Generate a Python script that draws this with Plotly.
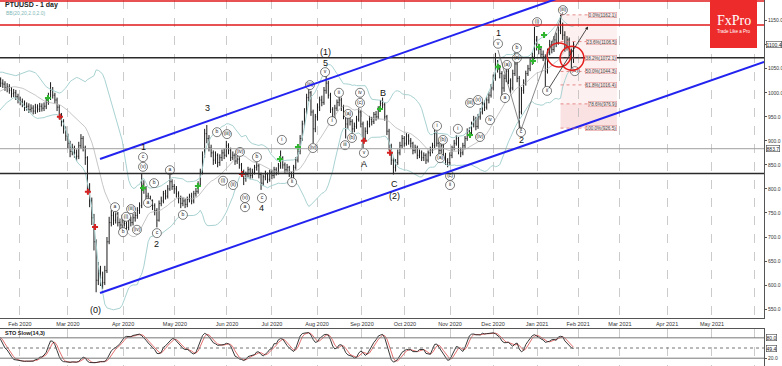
import numpy as np
import pandas as pd
import plotly.graph_objects as go

# ---------------- data ----------------
# bar numbers: first visible bar = 12 ; bars -8..11 are history used for indicators
closes = [965, 975, 972, 980, 985, 978, 990, 995, 1000, 1005, 998, 1010, 1015, 1008, 1020, 1025, 1018, 1030, 1035, 1028,
          1020, 1018, 1010, 1012, 1005, 998, 1000, 992, 985, 982,
          978, 970, 972, 965, 968, 962, 970, 966, 972, 968,
          972, 980, 990, 1005, 995, 985, 970, 952, 940, 925,
          910, 895, 878, 885, 875, 868, 890, 905, 885, 865,
          800, 775, 740, 690, 610, 630, 615, 605, 630, 690, 730,
          745, 735, 748, 730, 725, 740, 728, 720, 735, 730,
          740, 745, 755, 765, 810, 800, 785, 780, 772, 765,
          755, 735, 770, 775, 790, 785, 800, 815, 805, 800,
          790, 780, 770, 775, 768, 778, 785, 775, 790, 795,
          810, 835, 870, 915, 905, 885, 875, 860, 870, 855,
          865, 875, 870, 890, 880, 865, 870, 858, 862, 850,
          835, 822, 830, 840, 828, 835, 845, 848, 830, 812,
          825, 830, 820, 835, 828, 840, 835, 848, 865, 850,
          840, 845, 832, 828, 845, 860, 878, 905, 935, 960,
          990, 1000, 960, 925, 950, 970, 985, 980, 1005, 1020,
          995, 965, 950, 968, 980, 985, 970, 955, 935, 950,
          940, 925, 930, 945, 960, 935, 905, 920, 935, 945,
          940, 955, 950, 965, 978, 975, 950, 920, 890, 860,
          845, 855, 875, 890, 905, 895, 910, 900, 895, 880,
          885, 870, 875, 865, 870, 860, 875, 880, 890, 915,
          895, 880, 890, 870, 858, 855, 870, 885, 895, 905,
          880, 875, 890, 905, 920, 915, 935, 945, 930, 950,
          960, 975, 970, 985, 995, 1010, 1030, 1060, 1050, 1040,
          1010, 1030, 1045, 1025, 1010, 1040, 1060, 1030, 960, 1005,
          1020, 1040, 1050, 1065, 1075, 1110, 1095, 1090, 1080, 1075,
          1045, 1085, 1100, 1090, 1110, 1105, 1130, 1140, 1120, 1095,
          1110, 1085, 1070, 1100.4]
highs = [974, 984, 981, 989, 994, 987, 999, 1004, 1009, 1014, 1007, 1019, 1024, 1017, 1029, 1034, 1027, 1039, 1044, 1037,
         1032, 1028, 1024, 1020, 1018, 1012, 1008, 1006, 998, 992,
         988, 984, 980, 978, 976, 974, 977, 976, 979, 978,
         980, 988, 1000, 1022, 1012, 1000, 990, 975, 958, 945,
         930, 915, 900, 894, 890, 882, 898, 914, 910, 890,
         868, 812, 782, 748, 695, 648, 640, 628, 640, 700, 742,
         756, 752, 755, 752, 738, 746, 744, 732, 740, 742,
         748, 752, 762, 772, 832, 818, 806, 792, 786, 778,
         770, 760, 776, 784, 796, 798, 808, 832, 820, 810,
         806, 795, 786, 782, 780, 784, 790, 792, 796, 802,
         816, 842, 878, 925, 933, 912, 892, 880, 878, 874,
         872, 882, 884, 900, 895, 886, 878, 874, 870, 866,
         854, 840, 836, 846, 844, 842, 850, 856, 852, 834,
         830, 838, 834, 840, 840, 846, 845, 854, 880, 868,
         855, 852, 848, 836, 850, 866, 886, 912, 942, 968,
         998, 1010, 1004, 965, 956, 978, 992, 994, 1012, 1035,
         1025, 1000, 970, 975, 986, 992, 990, 975, 960, 956,
         955, 945, 938, 952, 968, 964, 940, 928, 942, 952,
         950, 960, 962, 972, 985, 990, 980, 954, 925, 894,
         866, 862, 882, 898, 912, 910, 916, 914, 906, 898,
         892, 890, 882, 880, 876, 874, 880, 888, 896, 937,
         920, 900, 896, 894, 875, 864, 876, 890, 902, 912,
         908, 886, 896, 910, 926, 928, 940, 952, 950, 956,
         968, 982, 984, 992, 1002, 1018, 1038, 1083, 1068, 1058,
         1045, 1038, 1052, 1050, 1030, 1048, 1085, 1066, 1035, 1012,
         1028, 1046, 1058, 1072, 1084, 1137, 1118, 1102, 1096, 1088,
         1080, 1092, 1110, 1108, 1118, 1125, 1138, 1162, 1146, 1128,
         1118, 1115, 1092, 1106]
lows = [956, 966, 963, 971, 976, 969, 981, 986, 991, 996, 989, 1001, 1006, 999, 1011, 1016, 1009, 1021, 1026, 1019,
        1012, 1010, 1004, 1001, 998, 990, 991, 985, 978, 974,
        970, 962, 963, 958, 959, 955, 956, 959, 960, 961,
        962, 966, 975, 985, 988, 978, 962, 945, 930, 915,
        900, 885, 866, 870, 865, 858, 862, 884, 878, 850,
        790, 762, 725, 672, 585, 600, 598, 592, 600, 625, 685,
        722, 725, 728, 722, 712, 718, 718, 708, 714, 722,
        724, 732, 738, 748, 760, 790, 776, 770, 764, 756,
        745, 720, 732, 764, 770, 778, 780, 796, 798, 790,
        782, 770, 760, 764, 760, 762, 772, 768, 770, 784,
        790, 805, 830, 865, 895, 878, 866, 850, 852, 845,
        848, 858, 862, 866, 872, 858, 860, 850, 852, 842,
        828, 808, 815, 824, 820, 822, 830, 838, 822, 798,
        806, 818, 812, 815, 820, 822, 828, 830, 842, 842,
        832, 834, 825, 815, 822, 840, 855, 872, 900, 928,
        955, 982, 952, 895, 918, 942, 962, 972, 975, 998,
        988, 958, 940, 944, 962, 972, 962, 945, 905, 925,
        932, 915, 918, 925, 940, 928, 885, 898, 914, 928,
        932, 935, 942, 945, 960, 968, 942, 912, 880, 850,
        830, 836, 850, 870, 885, 888, 890, 892, 886, 872,
        874, 862, 864, 858, 858, 852, 855, 868, 874, 885,
        888, 872, 874, 862, 850, 845, 850, 864, 880, 890,
        872, 866, 870, 884, 900, 908, 910, 928, 922, 925,
        944, 955, 962, 965, 978, 990, 1005, 1025, 1042, 1030,
        990, 1002, 1022, 1018, 1000, 1005, 1035, 1022, 926, 955,
        998, 1015, 1035, 1045, 1058, 1070, 1088, 1080, 1072, 1066,
        1012, 1040, 1078, 1082, 1085, 1095, 1100, 1122, 1110, 1085,
        1088, 1076, 1050, 1062]
first_bar = -8
bars = list(range(first_bar, first_bar + len(closes)))
opens = [closes[0] - 5] + closes[:-1]

month_ticks = [20.9, 43.0, 68.4, 92.3, 116.3, 137.0, 157.8, 178.5, 198.3, 219.1,
               238.9, 259.2, 278.1, 297.4, 319.1, 339.8, 359.6]
month_labels = ["Feb 2020", "Mar 2020", "Apr 2020", "May 2020", "Jun 2020", "Jul 2020",
                "Aug 2020", "Sep 2020", "Oct 2020", "Nov 2020", "Dec 2020", "Jan 2021",
                "Feb 2021", "Mar 2021", "Apr 2021", "May 2021", ""]

price_ticks = [550, 600, 650, 700, 750, 800, 850, 900, 950, 1000, 1050, 1100, 1150]

# horizontal levels
red_levels = [1191, 1141]
black_levels = [1073, 832]
gray_level = 883.7
last_price = 1100.4

# channel (bar, price) pairs
upper_channel = [(57.8, 862.3), (288.2, 1227.0)]
lower_channel = [(57.8, 583.5), (363.8, 1064.0)]

# fibonacci retracement
fib_start, fib_end = 270, 296
fib_ratios = ["0.0%", "23.6%", "38.2%", "50.0%", "61.8%", "78.6%", "100.0%"]
fib_values = [1162.1, 1106.5, 1072.1, 1044.3, 1016.4, 976.9, 926.5]

# Elliott labels (text, bar, price)
major_labels = [("(0)", 55.9, 548), ("1", 77.6, 887), ("2", 83.6, 685), ("3", 107.1, 968),
                ("4", 132.4, 760), ("(1)", 161.5, 1085), ("5", 161.5, 1061), ("A", 179.4, 852),
                ("B", 188.2, 1000), ("C", 193.3, 811), ("(2)", 193.3, 786), ("1", 241.2, 1124),
                ("2", 251.8, 902)]
circ_text = ["a", "(i)", "(iii)", "b", "(iv)", "c", "(v)", "b", "a", "c", "a", "b", "b", "(iii)", "(i)",
             "(ii)", "(iv)", "(v)", "a", "b", "c", "i", "ii", "(iv)", "(iii)", "v", "i", "ii", "(a)",
             "iii", "(b)", "(c)", "iv", "v", "i", "(a)", "(b)", "(c)", "ii", "i", "(iii)", "(v)",
             "(iv)", "iv", "v", "(a)", "a", "b", "(c)", "c", "(i)", "ii", "(iii)", "(iv)"]
circ_bar = [64.7, 69.8, 72.1, 68.4, 74.8, 77.6, 77.6, 82.7, 79.9, 84.0, 90.0, 96.0, 111.7, 116.3, 114.5,
            119.1, 122.3, 124.6, 124.6, 130.1, 132.4, 141.6, 146.3, 155.9, 154.5, 161.5, 164.7, 167.9, 172.1,
            170.7, 173.9, 177.6, 177.6, 179.4, 213.1, 214.5, 215.8, 219.1, 219.1, 222.7, 228.3, 232.0,
            232.9, 237.5, 241.2, 245.3, 244.4, 249.9, 249.9, 251.8, 259.2, 263.8, 271.1, 276.6]
circ_price = [762, 742, 758, 710, 715, 866, 846, 812, 771, 708, 839, 746, 918, 914, 817,
              808, 877, 781, 762, 866, 781, 902, 814, 885, 1016, 1043, 941, 1000, 956,
              891, 906, 979, 1000, 875, 931, 864, 902, 827, 808, 925, 979, 985,
              908, 943, 1102, 1058, 989, 1093, 1072, 918, 1147, 1004, 1172, 1045]

green_bar = [33.8, 77.6, 102.9, 140.7, 149.0, 186.8, 228.3, 241.2, 257.3, 260.1, 262.4]
green_price = [989, 802, 806, 862, 887, 966, 912, 1054, 1066, 1095, 1120]
red_bar = [39.3, 52.2, 55.5, 123.2, 179.4, 191.4]
red_price = [950, 794, 721, 831, 900, 875]

wave_lines = [((241.2, 1089), (251.8, 923)), ((251.8, 923), (271.1, 1168))]

# ---------------- indicators ----------------
s_close = pd.Series(closes, dtype=float)
s_high = pd.Series(highs, dtype=float)
s_low = pd.Series(lows, dtype=float)
mid = s_close.rolling(20).mean()
sd = s_close.rolling(20).std(ddof=0)
bb_up, bb_lo = mid + 2 * sd, mid - 2 * sd

ll = s_low.rolling(14, min_periods=1).min()
hh = s_high.rolling(14, min_periods=1).max()
num = (s_close - ll).rolling(3, min_periods=1).sum()
den = (hh - ll).rolling(3, min_periods=1).sum()
stoch_k = 100 * num / den
stoch_d = stoch_k.rolling(3, min_periods=1).mean()

# ---------------- figure ----------------
W, H = 782, 366
PLOT_W = 764
XR = [11.7, 11.7 + PLOT_W / 2.17]
FONT = "Liberation Sans, Arial, sans-serif"

fig = go.Figure()

fig.add_trace(go.Scatter(x=bars, y=bb_up, mode="lines", line=dict(color="#a9d2d2", width=1),
                         hoverinfo="skip", showlegend=False))
fig.add_trace(go.Scatter(x=bars, y=bb_lo, mode="lines", line=dict(color="#a9d2d2", width=1),
                         hoverinfo="skip", showlegend=False))
fig.add_trace(go.Scatter(x=bars, y=mid, mode="lines", line=dict(color="#b8b8b8", width=0.8),
                         hoverinfo="skip", showlegend=False))

fig.add_trace(go.Ohlc(x=bars, open=opens, high=highs, low=lows, close=closes,
                      increasing=dict(line=dict(color="#1a1a1a", width=1)),
                      decreasing=dict(line=dict(color="#1a1a1a", width=1)),
                      tickwidth=0.3, showlegend=False, hoverinfo="skip"))

fig.add_trace(go.Scatter(x=green_bar, y=green_price, mode="markers",
                         marker=dict(symbol="cross", size=5, color="#2fb52f"),
                         showlegend=False, hoverinfo="skip"))
fig.add_trace(go.Scatter(x=red_bar, y=red_price, mode="markers",
                         marker=dict(symbol="cross", size=5, color="#d42020"),
                         showlegend=False, hoverinfo="skip"))

fig.add_trace(go.Scatter(x=circ_bar, y=circ_price, mode="markers+text", text=circ_text,
                         textposition="middle center",
                         textfont=dict(size=5, color="#222", family=FONT),
                         marker=dict(symbol="circle", size=9, color="rgba(255,255,255,0.9)",
                                     line=dict(color="#444", width=0.7)),
                         showlegend=False, hoverinfo="skip"))

# stochastic
fig.add_trace(go.Scatter(x=bars, y=stoch_d, mode="lines", line=dict(color="#e06060", width=0.9),
                         xaxis="x2", yaxis="y2", showlegend=False, hoverinfo="skip"))
fig.add_trace(go.Scatter(x=bars, y=stoch_k, mode="lines", line=dict(color="#222", width=0.9),
                         xaxis="x2", yaxis="y2", showlegend=False, hoverinfo="skip"))

shapes = []
for lv in red_levels:
    shapes.append(dict(type="line", xref="paper", yref="y", x0=0, x1=1, y0=lv, y1=lv,
                       line=dict(color="#e01818", width=1.6)))
for lv in black_levels:
    shapes.append(dict(type="line", xref="paper", yref="y", x0=0, x1=1, y0=lv, y1=lv,
                       line=dict(color="#2a2a2a", width=1.6)))
shapes.append(dict(type="line", xref="paper", yref="y", x0=0, x1=1, y0=gray_level, y1=gray_level,
                   line=dict(color="#a0a0a0", width=1)))
for (a, b) in (upper_channel, lower_channel):
    shapes.append(dict(type="line", xref="x", yref="y", x0=a[0], y0=a[1], x1=b[0], y1=b[1],
                       line=dict(color="#2323f0", width=2)))
# fib box
shapes.append(dict(type="rect", xref="x", yref="y", x0=fib_start, x1=fib_end,
                   y0=fib_values[-1], y1=fib_values[0], fillcolor="rgba(240,110,110,0.10)",
                   line=dict(width=0), layer="below"))
shapes.append(dict(type="rect", xref="x", yref="y", x0=fib_start, x1=fib_end,
                   y0=fib_values[-1], y1=fib_values[-2], fillcolor="rgba(240,110,110,0.10)",
                   line=dict(width=0), layer="below"))
for v in fib_values:
    shapes.append(dict(type="line", xref="x", yref="y", x0=fib_start, x1=fib_end, y0=v, y1=v,
                       line=dict(color="#e07070", width=0.8, dash="dot")))
# red circles
for cx, cy in [(269.3, 1078.6), (275.3, 1072.0)]:
    shapes.append(dict(type="circle", xref="x", yref="y", x0=cx - 5.5, x1=cx + 5.5,
                       y0=cy - 25, y1=cy + 25, line=dict(color="#e51c1c", width=1.5)))
for (a, b) in wave_lines:
    shapes.append(dict(type="line", xref="x", yref="y", x0=a[0], y0=a[1], x1=b[0], y1=b[1],
                       line=dict(color="#555", width=0.7)))
# stochastic levels
for lv, dash in [(80, "solid"), (20, "solid"), (50, "dot")]:
    shapes.append(dict(type="line", xref="paper", yref="y2", x0=0, x1=1, y0=lv, y1=lv,
                       line=dict(color="#777", width=1, dash=dash)))
# FxPro logo
shapes.append(dict(type="rect", xref="paper", yref="paper", x0=710 / PLOT_W, x1=757 / PLOT_W,
                   y0=1 - 48 / H, y1=1, fillcolor="#ee2b2b", line=dict(width=0), layer="above"))

annotations = []
for t, bx, py in major_labels:
    annotations.append(dict(x=bx, y=py, xref="x", yref="y", text=t, showarrow=False,
                            xanchor="center", yanchor="middle",
                            font=dict(size=9, color="#111", family=FONT)))
for r, v in zip(fib_ratios, fib_values):
    annotations.append(dict(x=fib_end, y=v, xref="x", yref="y", xanchor="right", yanchor="middle",
                            text=f"{r}({v})",
                            showarrow=False, font=dict(size=4.6, color="#444", family=FONT),
                            bgcolor="#fbeaea", bordercolor="#e59a9a", borderwidth=0.6, borderpad=0))
annotations.append(dict(x=282.7, y=1138, ax=264.2, ay=1006, xref="x", yref="y", axref="x", ayref="y",
                        showarrow=True, arrowhead=2, arrowsize=0.8, arrowwidth=0.8, arrowcolor="#222",
                        text=""))
box = dict(showarrow=False, font=dict(size=5, color="#222", family=FONT),
           bgcolor="white", bordercolor="#444", borderwidth=0.6, borderpad=0,
           xanchor="left", yanchor="middle")
annotations.append(dict(x=1.002, y=last_price, xref="paper", yref="y", text=f"{last_price}", **box))
annotations.append(dict(x=1.002, y=gray_level, xref="paper", yref="y", text=f"{gray_level}", **box))
annotations.append(dict(x=1.002, y=80, xref="paper", yref="y2", text="80.0", **box))
annotations.append(dict(x=1.002, y=49.4, xref="paper", yref="y2", text="49.4", **box))
annotations.append(dict(x=3 / PLOT_W, y=1 - 5.5 / H, xref="paper", yref="paper", xanchor="left",
                        yanchor="middle", text="<b>PTUUSD - 1 day</b>", showarrow=False,
                        font=dict(size=7, color="#222", family=FONT)))
annotations.append(dict(x=4 / PLOT_W, y=1 - 13.5 / H, xref="paper", yref="paper", xanchor="left",
                        yanchor="middle", text="BB(20,20,2.0,2.0)", showarrow=False,
                        font=dict(size=5, color="#7fb8b8", family=FONT)))
annotations.append(dict(x=3 / PLOT_W, y=1 - 333 / H, xref="paper", yref="paper", xanchor="left",
                        yanchor="middle", text="<b>STO Slow(14,3)</b>", showarrow=False,
                        font=dict(size=5.5, color="#222", family=FONT)))
annotations.append(dict(x=733.5 / PLOT_W, y=1 - 21 / H, xref="paper", yref="paper",
                        xanchor="center", yanchor="middle", text="FxPro", showarrow=False,
                        font=dict(size=14, color="white", family="Liberation Serif, DejaVu Serif, serif")))
annotations.append(dict(x=733.5 / PLOT_W, y=1 - 32 / H, xref="paper", yref="paper",
                        xanchor="center", yanchor="middle", text="Trade Like a Pro", showarrow=False,
                        font=dict(size=4.5, color="white", family=FONT)))

axis_common = dict(showgrid=True, gridcolor="#b5b5b5", griddash="dash", gridwidth=0.7,
                   zeroline=False, showline=True, linecolor="#555", linewidth=1, mirror=True)

fig.update_layout(
    width=W, height=H, margin=dict(l=0, r=W - PLOT_W, t=0, b=0, autoexpand=False),
    paper_bgcolor="white", plot_bgcolor="white", showlegend=False,
    font=dict(family=FONT, size=6, color="#333"),
    xaxis=dict(domain=[0, 1], range=XR, anchor="y", tickmode="array", tickvals=month_ticks,
               ticktext=month_labels, tickfont=dict(size=5.5, color="#333"), ticks="",
               ticklabelstandoff=0, rangeslider=dict(visible=False), **axis_common),
    yaxis=dict(domain=[1 - 318 / H, 1], range=[531.5, 1193], side="right", tickmode="array",
               tickvals=price_ticks, ticktext=[f"{v:.1f}" for v in price_ticks],
               ticks="outside", ticklen=2, tickcolor="#555", tickfont=dict(size=5, color="#333"),
               ticklabelstandoff=0, automargin=False,
               showgrid=False, zeroline=False, showline=True, linecolor="#555", linewidth=1, mirror=True),
    xaxis2=dict(domain=[0, 1], range=XR, anchor="y2", matches="x", tickmode="array",
                tickvals=month_ticks, showticklabels=False, ticks="", **axis_common),
    yaxis2=dict(domain=[0, 1 - 329 / H], range=[-3, 106], side="right", tickmode="array",
                tickvals=[20], ticktext=["20.0"], ticks="outside", ticklen=2, tickcolor="#555",
                tickfont=dict(size=5, color="#333"), ticklabelstandoff=0, automargin=False,
                showgrid=False, zeroline=False,
                showline=True, linecolor="#555", linewidth=1, mirror=True),
    shapes=shapes, annotations=annotations,
)

fig.write_html("out.html", config={"displayModeBar": False, "staticPlot": True},
               post_script="document.body.style.margin='0';document.body.style.overflow='hidden';")
